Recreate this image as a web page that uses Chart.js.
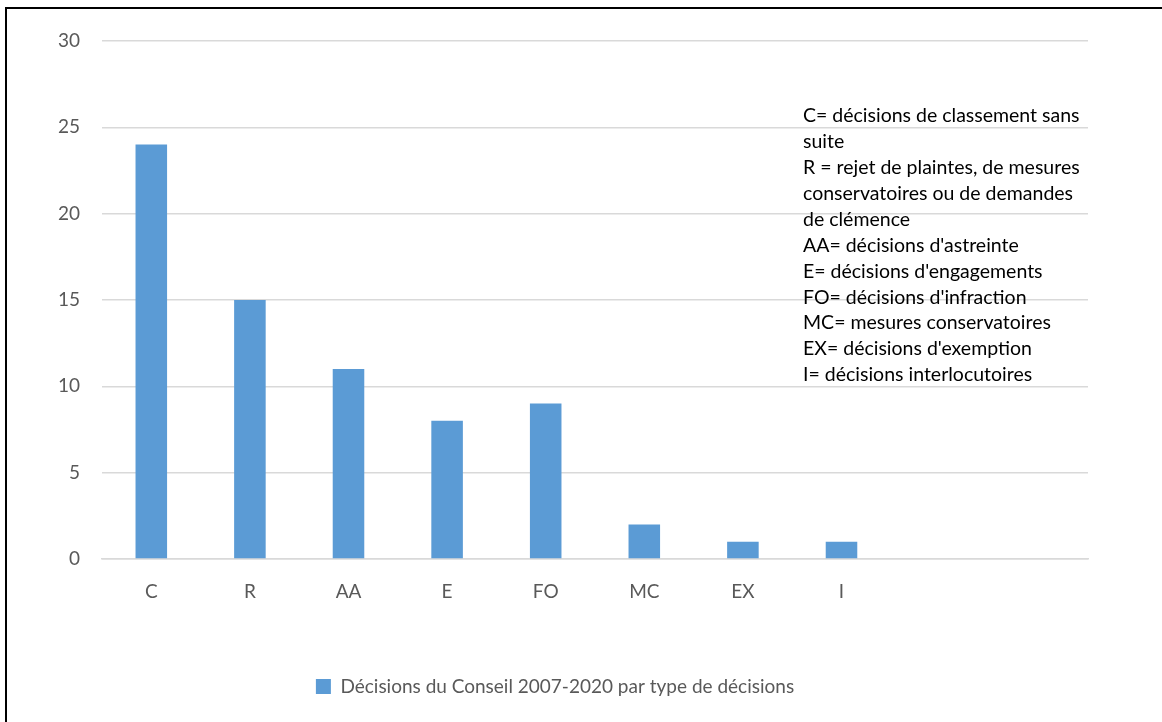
<!DOCTYPE html>
<html>
<head>
<meta charset="utf-8">
<script src="https://cdn.jsdelivr.net/npm/chart.js@4.4.1/dist/chart.umd.min.js"></script>
<style>
  html, body { margin: 0; padding: 0; background: #fff; }
  #wrap { position: relative; width: 1162px; height: 722px; }
  #frame { position: absolute; left: 5px; top: 7px; right: -10px; bottom: -10px; border-left: 2px solid #000; border-top: 2px solid #000; pointer-events: none; }
</style>
</head>
<body>
<div id="wrap">
  <canvas id="chart" width="1162" height="722"></canvas>
  <div id="frame"></div>
</div>
<script>
// categories (two trailing empty slots, as in the original sheet)
const categories = ['C', 'R', 'AA', 'E', 'FO', 'MC', 'EX', 'I', '', ''];
const decisions = [24, 15, 11, 8, 9, 2, 1, 1, null, null];
const seriesLabel = 'Décisions du Conseil 2007-2020 par type de décisions';
const yTicks = [0, 5, 10, 15, 20, 25, 30];
const notes = [
    'C= décisions de classement sans',
    'suite',
    'R = rejet de plaintes, de mesures',
    'conservatoires ou de demandes',
    'de clémence',
    'AA= décisions d\'astreinte',
    'E= décisions d\'engagements',
    'FO= décisions d\'infraction',
    'MC= mesures conservatoires',
    'EX= décisions d\'exemption',
    'I= décisions interlocutoires'
];

const FONT = 'Lato, "Open Sans", sans-serif';

// text box with the abbreviations, drawn on top of the plot
const notesPlugin = {
    id: 'notes',
    afterDraw(chart) {
        const ctx = chart.ctx;
        ctx.save();
        ctx.font = '19.5px ' + FONT;
        ctx.fillStyle = '#000';
        ctx.textBaseline = 'middle';
        ctx.textAlign = 'left';
        notes.forEach((line, i) => ctx.fillText(line, 803, 116 + i * 25.9));
        ctx.restore();
    }
};

const canvas = document.getElementById('chart');
new Chart(canvas.getContext('2d'), {
    type: 'bar',
    data: {
        labels: categories,
        datasets: [{
            label: seriesLabel,
            data: decisions,
            backgroundColor: '#5B9BD5',
            borderWidth: 0,
            categoryPercentage: 1,
            barPercentage: 0.32
        }]
    },
    options: {
        responsive: false,
        animation: false,
        layout: { padding: { left: 22, right: 74, top: 41, bottom: 16 } },
        scales: {
            x: {
                grid: { display: false, drawTicks: false },
                border: { color: '#d9d9d9', width: 1.5 },
                ticks: { color: '#595959', font: { family: FONT, size: 19 }, padding: 21 },
                afterFit: (scale) => { scale.height = 108; }
            },
            y: {
                min: 0,
                max: 30,
                afterBuildTicks: (scale) => { scale.ticks = yTicks.map(v => ({ value: v })); },
                grid: { color: '#d9d9d9', lineWidth: 1.5, drawTicks: false },
                border: { display: false },
                ticks: { color: '#595959', font: { family: FONT, size: 19 }, padding: 22 },
                afterFit: (scale) => { scale.width = 80; }
            }
        },
        plugins: {
            legend: {
                position: 'bottom',
                labels: {
                    color: '#595959',
                    font: { family: FONT, size: 19 },
                    boxWidth: 15,
                    boxHeight: 15,
                    padding: 10
                }
            },
            tooltip: { enabled: false }
        }
    },
    plugins: [notesPlugin]
});
</script>
</body>
</html>
